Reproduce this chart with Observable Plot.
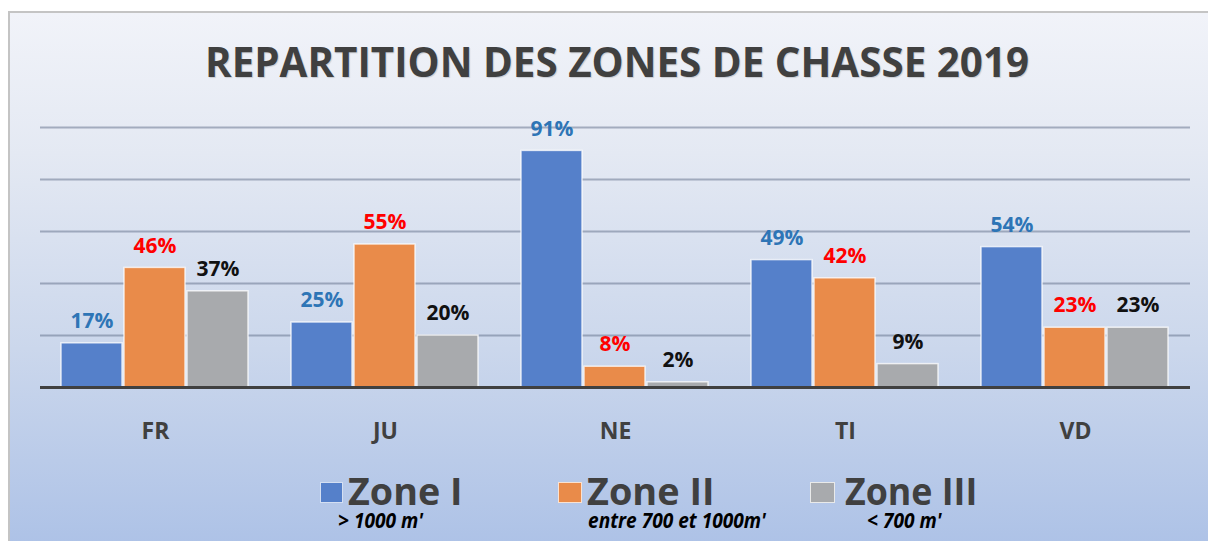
<!DOCTYPE html>
<html>
<head>
<meta charset="utf-8">
<script src="https://cdn.jsdelivr.net/npm/d3@7"></script>
<script src="https://cdn.jsdelivr.net/npm/@observablehq/plot@0.6"></script>
<style>
  html, body { margin: 0; padding: 0; background: #ffffff; width: 1208px; height: 541px; overflow: hidden; }
  #frame {
    position: absolute; left: 8px; top: 11px; width: 1240px; height: 560px;
    border-left: 2px solid #c4c4c4; border-top: 2px solid #c4c4c4;
    background: linear-gradient(to bottom, #f1f3f9 0%, #e4e9f3 25%, #cbd7ec 60%, #a9bfe6 100%);
  }
  .layer { position: absolute; left: 0; top: 100px; }
  .txt { position: absolute; white-space: nowrap; transform-origin: 0 0; margin: 0; padding: 0; }
  .sq { position: absolute; box-sizing: border-box; border: 1px solid rgba(255,255,255,0.75); }
</style>
</head>
<body>
<div id="frame"></div>
<div id="grid" class="layer"></div>
<div id="chart" class="layer"></div>
<div id="base" class="layer"></div>
<script>
// ---------------- data ----------------
const categories = ["FR", "JU", "NE", "TI", "VD"];
const zones = ["Zone I", "Zone II", "Zone III"];
const zoneI   = [17, 25, 91, 49, 54];
const zoneII  = [46, 55, 8, 42, 23];
const zoneIII = [37, 20, 2, 9, 23];
const zoneSubtitles = ["> 1000 m'", "entre 700 et 1000m'", "< 700 m'"];
const gridValues = [20, 40, 60, 80, 100];
const title = "REPARTITION DES ZONES DE CHASSE 2019";

// ---------------- styles ----------------
const barColors = ["#5580ca", "#e98b4a", "#a8aaad"];
const labelColors = ["#2e75b6", "#ff0000", "#111111"];
const FONT = "'Open Sans', 'DejaVu Sans', sans-serif";

const series = [zoneI, zoneII, zoneIII];
const data = categories.flatMap((c, i) => zones.map((z, j) => ({category: c, zone: z, value: series[j][i]})));

const frameOpts = {
  width: 1208, height: 350,
  marginTop: 27, marginBottom: 63, marginLeft: 40, marginRight: 18,
  style: {background: "transparent", overflow: "visible", fontFamily: FONT},
  y: {domain: [0, 100], axis: null}
};

// gridlines (behind)
document.getElementById("grid").appendChild(Plot.plot({
  ...frameOpts,
  marks: [Plot.ruleY(gridValues, {stroke: "#5f6e88", strokeOpacity: 0.5, strokeWidth: 2})]
}));

// bars + labels
const labelMarks = zones.map((z, j) => Plot.text(data, {
  filter: d => d.zone === z,
  fx: "category", x: "zone", y: "value",
  text: d => d.value + "%",
  fill: labelColors[j],
  dy: -22, fontSize: 21, fontWeight: 700, fontFamily: FONT
}));
document.getElementById("chart").appendChild(Plot.plot({
  ...frameOpts,
  fx: {domain: categories, paddingInner: 0.183, paddingOuter: 0.091, label: null, axis: null},
  x: {domain: zones, paddingInner: 0.03, paddingOuter: 0, axis: null},
  color: {domain: zones, range: barColors},
  marks: [
    Plot.barY(data, {fx: "category", x: "zone", y: "value", fill: "zone", stroke: "#ffffff", strokeOpacity: 0.75, strokeWidth: 1.5}),
    ...labelMarks,
    // category labels under each group
    Plot.text(categories, {fx: d => d, text: d => d, frameAnchor: "bottom", dy: 51, fontSize: 23, fontWeight: 700, fill: "#404040", fontFamily: FONT})
  ]
}));

// baseline (front)
document.getElementById("base").appendChild(Plot.plot({
  ...frameOpts,
  marks: [Plot.ruleY([0], {stroke: "#404040", strokeWidth: 3})]
}));

// ---------------- text placement helper ----------------
const canvas = document.createElement("canvas");
const ctx = canvas.getContext("2d");
function place(txt, o) {
  const style = o.style || "normal", weight = o.weight || 700;
  ctx.font = `${style} ${weight} 100px ${FONT}`;
  const capRatio = ctx.measureText("H").actualBoundingBoxAscent / 100;
  const fs = (o.capBottom - o.capTop) / capRatio;
  ctx.font = `${style} ${weight} ${fs}px ${FONT}`;
  const m = ctx.measureText(txt);
  const inkW = m.actualBoundingBoxLeft + m.actualBoundingBoxRight;
  let s, x0;
  if (o.x1 != null) { s = (o.x1 - o.x0) / inkW; x0 = o.x0; }
  else { s = o.scale; x0 = o.cx - inkW * s / 2; }
  const asc = m.fontBoundingBoxAscent, desc = m.fontBoundingBoxDescent;
  const L = fs * 0.9;
  const el = document.createElement("div");
  el.className = "txt";
  el.textContent = txt;
  el.style.font = `${style} ${weight} ${fs}px ${FONT}`;
  el.style.lineHeight = L + "px";
  el.style.color = o.color || "#404040";
  el.style.left = (x0 + m.actualBoundingBoxLeft * s) + "px";
  el.style.top = (o.capBottom - asc - (L - (asc + desc)) / 2) + "px";
  el.style.transform = `scaleX(${s})`;
  if (o.shadow) el.style.textShadow = o.shadow;
  document.body.appendChild(el);
}

// title
place(title, {x0: 208, x1: 1028, capTop: 49, capBottom: 78, color: "#404040", shadow: "1px 1px 1px rgba(0,0,0,0.15)"});

// legend
const legendLayout = [
  {sq: [320, 482, 23, 21], label: [348, 460], subCx: 381},
  {sq: [558, 482, 24, 21], label: [587, 712], subCx: 677},
  {sq: [810, 482, 25, 21], label: [845, 975], subCx: 905}
];
zones.forEach((z, j) => {
  const Lg = legendLayout[j];
  const sq = document.createElement("div");
  sq.className = "sq";
  sq.style.left = Lg.sq[0] + "px"; sq.style.top = Lg.sq[1] + "px";
  sq.style.width = Lg.sq[2] + "px"; sq.style.height = Lg.sq[3] + "px";
  sq.style.background = barColors[j];
  document.body.appendChild(sq);
  place(z, {x0: Lg.label[0], x1: Lg.label[1], capTop: 478, capBottom: 505, color: "#404040"});
  place(zoneSubtitles[j], {cx: Lg.subCx, scale: 0.86, capTop: 512, capBottom: 528, color: "#000000", style: "italic"});
});
</script>
</body>
</html>
